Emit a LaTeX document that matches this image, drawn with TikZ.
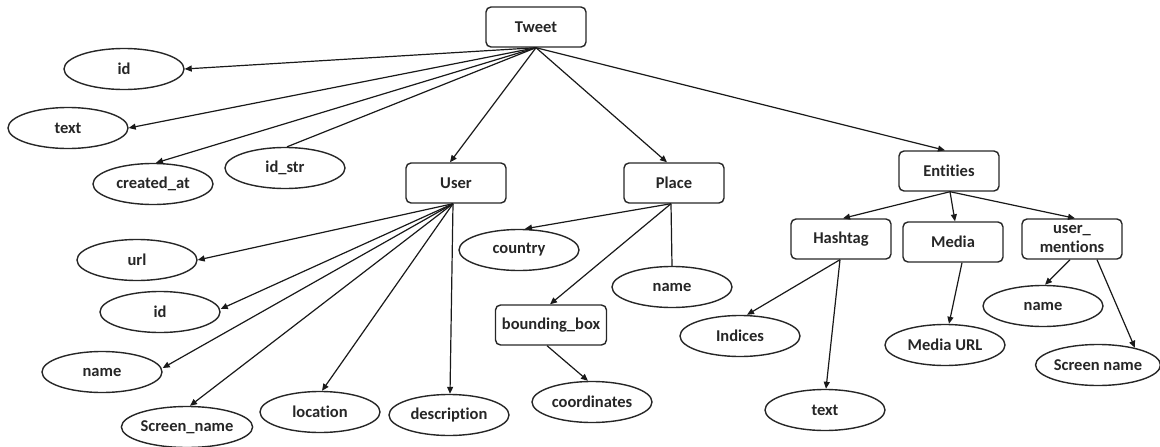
\documentclass[tikz,border=0pt]{standalone}
\usepackage{fontspec}
\setmainfont[Ligatures=NoCommon]{Carlito}
\usetikzlibrary{shapes.geometric,arrows.meta}
\begin{document}
\begin{tikzpicture}[x=1pt,y=-1pt,
  every node/.style={font=\bfseries\fontsize{16.5}{19}\selectfont, text=black!85},
  ell/.style={draw=black!85, ellipse, line width=1.4pt, minimum width=120pt, minimum height=41pt, inner sep=0pt},
  box/.style={draw=black!85, rounded corners=5pt, line width=1.4pt, minimum width=100pt, minimum height=40pt, inner sep=0pt, align=center},
  conn/.style={draw=black!90, line width=1.2pt, -{Triangle[length=7pt,width=6pt]}},
  plainline/.style={draw=black!90, line width=1.2pt}]
\useasboundingbox (0,0) rectangle (1160,447);
% nodes
\node[box] (tweet) at (536,27) {Tweet};
\node[ell] (id1) at (124,69) {id};
\node[ell] (text1) at (68,128) {text};
\node[ell] (created) at (153,184) {created\_at};
\node[ell] (idstr) at (285,168) {id\_str};
\node[box] (user) at (456,183) {User};
\node[box] (place) at (674,183) {Place};
\node[box] (ent) at (949,171) {Entities};
\node[ell] (url) at (137,260) {url};
\node[ell] (id2) at (160,312) {id};
\node[ell] (name1) at (102,372) {name};
\node[ell] (sname) at (187,427) {Screen\_name};
\node[ell] (loc) at (320,412) {location};
\node[ell] (desc) at (449,415) {description};
\node[ell] (country) at (519,250) {country};
\node[ell] (pname) at (672,287) {name};
\node[box, minimum width=111pt] (bbox) at (551,325) {bounding\_box};
\node[ell] (coord) at (592,402) {coordinates};
\node[box] (hash) at (841,239) {Hashtag};
\node[box] (media) at (953,242) {Media};
\node[box] (um) at (1072,239) {user\_\\mentions};
\node[ell] (ind) at (740,336) {Indices};
\node[ell] (htext) at (825,410) {text};
\node[ell] (murl) at (945,345) {Media URL};
\node[ell] (umname) at (1043,306) {name};
\node[ell] (umsname) at (1098,365) {Screen name};
% connectors
\draw[conn] (tweet.south) -- (id1.east);
\draw[conn] (tweet.south) -- (text1.east);
\draw[conn] (tweet.south) -- ([xshift=3pt]created.north);
\draw[plainline] (tweet.south) -- ([xshift=2pt]idstr.north);
\draw[conn] (tweet.south) -- ([xshift=-6pt]user.north);
\draw[conn] (tweet.south) -- ([xshift=-7pt]place.north);
\draw[conn] (tweet.south) -- ([xshift=-4pt]ent.north);
\coordinate (uo) at ([xshift=-3pt]user.south);
\draw[conn] (uo) -- (url.east);
\draw[conn] (uo) -- ([yshift=3pt]id2.east);
\draw[conn] (uo) -- ([yshift=4pt]name1.east);
\draw[conn] (uo) -- ([xshift=3pt]sname.north);
\draw[conn] (uo) -- ([xshift=2pt]loc.north);
\draw[conn] (uo) -- ([xshift=1pt]desc.north);
\coordinate (po) at ([xshift=-3pt]place.south);
\draw[conn] (po) -- ([xshift=6pt]country.north);
\draw[conn] (po) -- ([xshift=-1pt]bbox.north);
\draw[plainline] (po) -- (pname.north);
\draw[conn] ([xshift=-4pt]bbox.south) -- ([xshift=-4pt]coord.north);
\coordinate (eo) at ([xshift=1pt]ent.south);
\draw[conn] (eo) -- ([xshift=2pt]hash.north);
\draw[conn] (eo) -- ([xshift=2pt]media.north);
\draw[conn] (eo) -- ([xshift=3pt]um.north);
\draw[conn] ([xshift=-1pt]hash.south) -- ([xshift=7pt]ind.north);
\draw[conn] ([xshift=-1pt]hash.south) -- ([xshift=1pt]htext.north);
\draw[conn] ([xshift=9pt]media.south) -- ([xshift=4pt]murl.north);
\draw[conn] ([xshift=-2pt]um.south) -- ([xshift=2pt]umname.north);
\draw[conn] ([xshift=25pt]um.south) -- (umsname.25);
\end{tikzpicture}
\end{document}
